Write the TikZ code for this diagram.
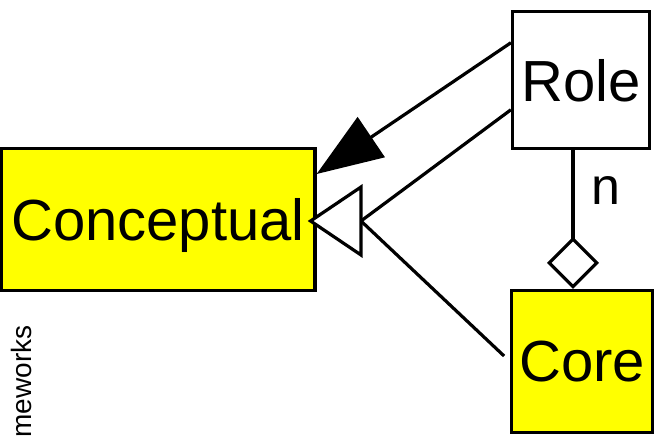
\documentclass[tikz,border=0pt]{standalone}
\usepackage{fontspec}
\setmainfont{Liberation Sans}
\usetikzlibrary{arrows.meta,calc}
\definecolor{boxyellow}{RGB}{255,255,0}
\tikzset{
  umlbox/.style={draw, line width=1.6pt, inner sep=0pt, text depth=0pt, font=\fontsize{29}{34}\selectfont},
  assoc/.style={line width=1.6pt},
}

\begin{document}
\begin{tikzpicture}[x=0.5pt, y=-0.5pt]
	%%%%% START %%%%%
	\useasboundingbox (0,0) rectangle (657,437);

	\node[umlbox, fill=boxyellow, minimum width=157pt, minimum height=71pt] (conc) at (158,219.5) {Conceptual};
	\node[umlbox, fill=white, minimum width=68.5pt, minimum height=68.75pt] (role) at (581,80) {Role};
	\node[umlbox, fill=boxyellow, minimum width=70.5pt, minimum height=71pt] (core) at (582,361.5) {Core};

	\node[rotate=90, anchor=base east, inner sep=0pt, font=\fontsize{14}{16}\selectfont] (fw) at (32,325) {meworks};

	\draw[assoc, -{Triangle[length=33pt,width=24pt]}] (role.152) -- (conc.16);

	\coordinate (gen) at (361,221);
	\draw[assoc] (role.203) -- (gen);
	\draw[assoc, shorten >=4pt] (gen) -- (core.west);
	\draw[assoc, fill=white, line join=miter] ($(gen)+(0,-34)$) -- ($(gen)+(0,34)$) -- ([xshift=-3pt]conc.east |- gen) -- cycle;

	\coordinate (agg) at ($(core.north)+(-9,0)$);
	\draw[assoc, -{Diamond[open,length=26pt,width=26pt]}] (role.south -| agg) -- (agg);
	\node[font=\fontsize{26}{30}\selectfont, inner sep=0pt] (mult) at (605.5,191) {n};

	%%%%% END %%%%%
\end{tikzpicture}
\end{document}
